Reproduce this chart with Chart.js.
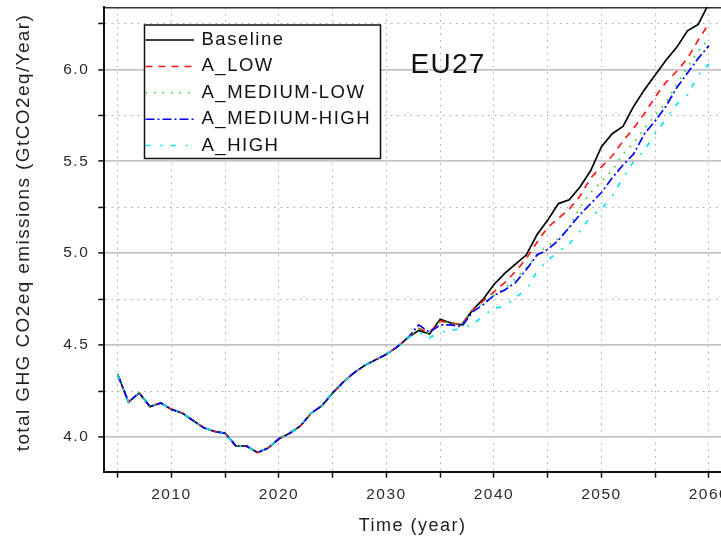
<!DOCTYPE html>
<html>
<head>
<meta charset="utf-8">
<script src="https://cdn.jsdelivr.net/npm/chart.js@4.4.1/dist/chart.umd.min.js"></script>
<style>
  html, body { margin: 0; padding: 0; background: #fff; }
  canvas { display: block; }
</style>
</head>
<body>
<canvas id="c" width="721" height="542"></canvas>
<script>
// ---------------- data ----------------
const years = [2005, 2006, 2007, 2008, 2009, 2010, 2011, 2012, 2013, 2014,
               2015, 2016, 2017, 2018, 2019, 2020, 2021, 2022, 2023, 2024,
               2025, 2026, 2027, 2028, 2029, 2030, 2031, 2032, 2033, 2034,
               2035, 2036, 2037, 2038, 2039, 2040, 2041, 2042, 2043, 2044,
               2045, 2046, 2047, 2048, 2049, 2050, 2051, 2052, 2053, 2054,
               2055, 2056, 2057, 2058, 2059, 2060];

const baseline = [4.34, 4.19, 4.24, 4.165, 4.185, 4.15, 4.13, 4.09, 4.05, 4.03,
                  4.02, 3.95, 3.95, 3.915, 3.94, 3.99, 4.02, 4.06, 4.13, 4.17,
                  4.24, 4.30, 4.35, 4.39, 4.42, 4.45, 4.49, 4.54, 4.58, 4.56,
                  4.64, 4.62, 4.61, 4.69, 4.75, 4.83, 4.89, 4.94, 4.99, 5.10,
                  5.18, 5.27, 5.29, 5.36, 5.45, 5.58, 5.65, 5.69, 5.80, 5.89,
                  5.97, 6.05, 6.12, 6.21, 6.245, 6.36];

const aLow = [4.34, 4.19, 4.24, 4.165, 4.185, 4.15, 4.13, 4.09, 4.05, 4.03,
              4.02, 3.95, 3.95, 3.915, 3.94, 3.99, 4.02, 4.06, 4.13, 4.17,
              4.24, 4.30, 4.35, 4.39, 4.42, 4.45, 4.49, 4.54, 4.59, 4.57,
              4.63, 4.62, 4.61, 4.69, 4.74, 4.79, 4.84, 4.90, 4.97, 5.06,
              5.14, 5.19, 5.24, 5.31, 5.41, 5.47, 5.53, 5.61, 5.68, 5.76,
              5.85, 5.93, 5.99, 6.06, 6.16, 6.25];

const aMediumLow = [4.34, 4.19, 4.24, 4.165, 4.185, 4.15, 4.13, 4.09, 4.05, 4.03,
                    4.02, 3.95, 3.95, 3.915, 3.94, 3.99, 4.02, 4.06, 4.13, 4.17,
                    4.24, 4.30, 4.35, 4.39, 4.42, 4.45, 4.49, 4.54, 4.59, 4.56,
                    4.63, 4.62, 4.61, 4.69, 4.73, 4.77, 4.81, 4.86, 4.92, 4.99,
                    5.04, 5.08, 5.14, 5.25, 5.33, 5.39, 5.45, 5.54, 5.60, 5.68,
                    5.75, 5.82, 5.92, 6.01, 6.10, 6.17];

const aMediumHigh = [4.34, 4.19, 4.24, 4.165, 4.185, 4.15, 4.13, 4.09, 4.05, 4.03,
                     4.02, 3.95, 3.95, 3.915, 3.94, 3.99, 4.02, 4.06, 4.13, 4.17,
                     4.24, 4.30, 4.35, 4.39, 4.42, 4.45, 4.49, 4.54, 4.61, 4.57,
                     4.61, 4.61, 4.60, 4.68, 4.72, 4.77, 4.80, 4.84, 4.91, 4.99,
                     5.02, 5.07, 5.14, 5.21, 5.27, 5.33, 5.41, 5.48, 5.54, 5.65,
                     5.72, 5.80, 5.90, 5.98, 6.06, 6.13];

const aHigh = [4.34, 4.19, 4.24, 4.165, 4.185, 4.15, 4.13, 4.09, 4.05, 4.03,
               4.02, 3.95, 3.95, 3.915, 3.94, 3.99, 4.02, 4.06, 4.13, 4.17,
               4.24, 4.30, 4.35, 4.39, 4.42, 4.45, 4.49, 4.54, 4.57, 4.54,
               4.57, 4.58, 4.59, 4.61, 4.66, 4.70, 4.71, 4.76, 4.80, 4.90,
               4.96, 5.01, 5.05, 5.12, 5.20, 5.24, 5.31, 5.41, 5.50, 5.56,
               5.65, 5.73, 5.81, 5.86, 5.97, 6.03];

const seriesNames = ['Baseline', 'A_LOW', 'A_MEDIUM-LOW', 'A_MEDIUM-HIGH', 'A_HIGH'];
const xMajorTicks = [2010, 2020, 2030, 2040, 2050, 2060];
const xTickLabels = ['2010', '2020', '2030', '2040', '2050', '2060'];
const yMajorTicks = [4.0, 4.5, 5.0, 5.5, 6.0];
const yTickLabels = ['4.0', '4.5', '5.0', '5.5', '6.0'];
const regionLabel = 'EU27';
const xAxisTitle = 'Time (year)';
const yAxisTitle = 'total GHG CO2eq emissions (GtCO2eq/Year)';

// ---------------- styling ----------------
const FONT = '"Liberation Sans", Arial, sans-serif';
const seriesStyles = [
  { color: '#000000', dash: [] },
  { color: '#ff1a1a', dash: [7, 6] },
  { color: '#11dd11', dash: [1.5, 7] },
  { color: '#0000ff', dash: [9, 3, 2, 3] },
  { color: '#00e6e6', dash: [5, 10, 2, 8] }
];
const seriesValues = [baseline, aLow, aMediumLow, aMediumHigh, aHigh];

const datasets = seriesValues.map((vals, i) => ({
  label: seriesNames[i],
  data: years.map((yr, j) => ({ x: yr, y: vals[j] })),
  borderColor: seriesStyles[i].color,
  backgroundColor: seriesStyles[i].color,
  borderDash: seriesStyles[i].dash,
  borderWidth: 1.7,
  pointRadius: 0,
  tension: 0,
  fill: false,
  order: seriesValues.length - i
}));

const isMajor = (list, v) => list.some(m => Math.abs(m - v) < 1e-6);
const labelFor = (list, labels, v) => {
  const k = list.findIndex(m => Math.abs(m - v) < 1e-6);
  return k >= 0 ? labels[k] : '';
};

const X_MIN = 2003.75, X_MAX = 2061.12;
const Y_MIN = 3.811, Y_MAX = 6.338;

const spacingPlugin = {
  id: 'spacing',
  beforeUpdate(chart) { chart.ctx.letterSpacing = '1.5px'; },
  beforeLayout(chart) { chart.ctx.letterSpacing = '1.5px'; },
  beforeDraw(chart) { chart.ctx.letterSpacing = '1.5px'; }
};

const annotatePlugin = {
  id: 'annotate',
  afterDraw(chart) {
    const ctx = chart.ctx;
    const area = chart.chartArea;
    ctx.save();
    // y axis title
    ctx.save();
    ctx.letterSpacing = '1.4px';
    ctx.font = '19px ' + FONT;
    ctx.fillStyle = '#222';
    ctx.textAlign = 'center';
    ctx.textBaseline = 'middle';
    ctx.translate(24, (area.top + area.bottom) / 2 - 7);
    ctx.rotate(-Math.PI / 2);
    ctx.fillText(yAxisTitle, 0, 0);
    ctx.restore();
    // region label
    ctx.letterSpacing = '1.3px';
    ctx.font = '28px ' + FONT;
    ctx.fillStyle = '#111';
    ctx.textAlign = 'left';
    ctx.textBaseline = 'alphabetic';
    ctx.fillText(regionLabel, 410.5, 72.7);
    // legend box
    const L = 144.5, T = 25, R = 380.5, B = 158.5;
    ctx.fillStyle = '#fff';
    ctx.fillRect(L, T, R - L, B - T);
    ctx.strokeStyle = '#111';
    ctx.lineWidth = 1.5;
    ctx.setLineDash([]);
    ctx.strokeRect(L, T, R - L, B - T);
    ctx.font = '18.5px ' + FONT;
    ctx.letterSpacing = '1.5px';
    ctx.textBaseline = 'middle';
    chart.data.datasets.forEach((ds, i) => {
      const y = 40 + i * 26.4;
      ctx.beginPath();
      ctx.strokeStyle = ds.borderColor;
      ctx.lineWidth = 1.5;
      ctx.setLineDash(ds.borderDash || []);
      ctx.moveTo(L + 1, y);
      ctx.lineTo(194, y);
      ctx.stroke();
      ctx.setLineDash([]);
      ctx.fillStyle = '#111';
      ctx.fillText(ds.label, 201.5, y);
    });
    ctx.restore();
  }
};

new Chart(document.getElementById('c'), {
  type: 'line',
  data: { datasets },
  plugins: [spacingPlugin, annotatePlugin],
  options: {
    responsive: false,
    animation: false,
    devicePixelRatio: 1,
    layout: { padding: 0 },
    plugins: { legend: { display: false }, tooltip: { enabled: false } },
    scales: {
      x: {
        type: 'linear',
        position: 'bottom',
        min: X_MIN, max: X_MAX,
        afterFit(s) { s.height = 70.3; s.paddingLeft = 0; s.paddingRight = 0; },
        ticks: {
          stepSize: 5, autoSkip: false, includeBounds: false, maxRotation: 0,
          padding: 8, color: '#2a2a2a',
          font: { family: FONT, size: 15.5 },
          callback: v => labelFor(xMajorTicks, xTickLabels, v)
        },
        grid: {
          color: '#a8a8a8', lineWidth: 1,
          tickLength: 6, tickColor: '#111', tickWidth: 1.5
        },
        border: { display: true, color: '#111', width: 2, dash: [1.5, 5] },
        title: {
          display: true, text: xAxisTitle, color: '#222',
          font: { family: FONT, size: 18 },
          padding: { top: 0, bottom: 5 }
        }
      },
      xTop: {
        type: 'linear',
        position: 'top',
        min: X_MIN, max: X_MAX,
        afterFit(s) { s.height = 7.3; s.paddingLeft = 0; s.paddingRight = 0; },
        ticks: { display: false },
        grid: { drawOnChartArea: false, drawTicks: false },
        border: { display: true, color: '#333', width: 1.5 }
      },
      y: {
        type: 'linear',
        position: 'left',
        min: Y_MIN, max: Y_MAX,
        afterFit(s) { s.width = 104.3; s.paddingTop = 0; s.paddingBottom = 0; },
        ticks: {
          stepSize: 0.25, autoSkip: false, includeBounds: false,
          padding: 9, color: '#2a2a2a',
          font: { family: FONT, size: 15.5 },
          callback: v => labelFor(yMajorTicks, yTickLabels, v)
        },
        grid: {
          color: c => (c.tick && isMajor(yMajorTicks, c.tick.value)) ? '#c4c4c4' : '#a8a8a8',
          lineWidth: c => (c.tick && isMajor(yMajorTicks, c.tick.value)) ? 1.8 : 1,
          tickLength: 6, tickColor: '#111', tickWidth: 1.5
        },
        border: {
          display: true, color: '#111', width: 2,
          dash: c => (c.tick && !isMajor(yMajorTicks, c.tick.value)) ? [1.5, 5] : []
        },
        title: { display: false }
      }
    }
  }
});
</script>
</body>
</html>
